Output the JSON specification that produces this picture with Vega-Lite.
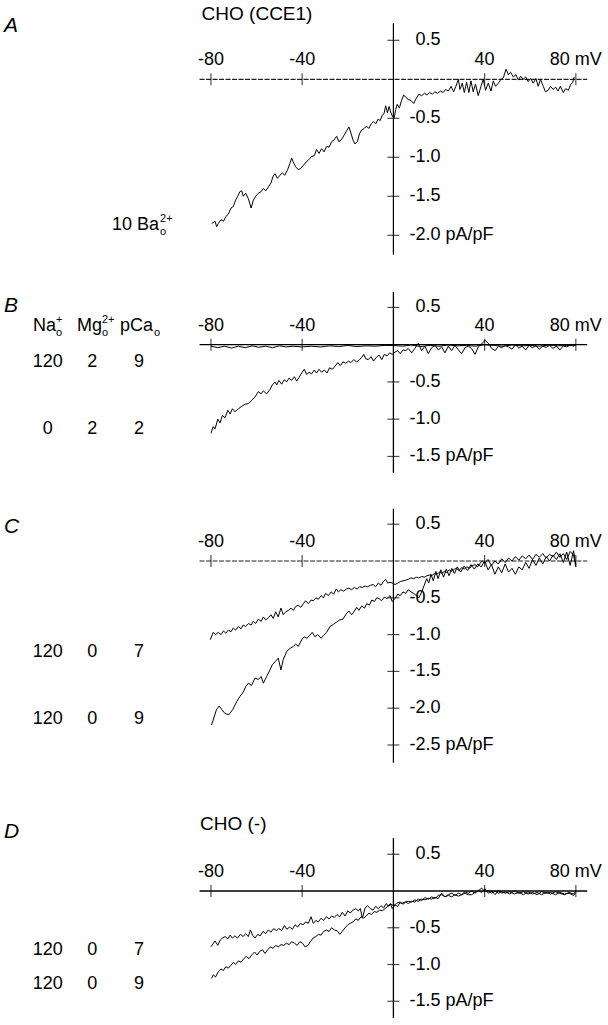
{
"$schema":"https://vega.github.io/schema/vega-lite/v6.json",
"padding":0,"spacing":0,"bounds":"flush","background":"white",
"config":{"view":{"stroke":null},"text":{"font":"Liberation Sans","color":"black"}},
"datasets":{
"Aa":[
{"k":"axh","x":-85,"x2":85,"y":0,"y2":0},{"k":"axv","x":0,"x2":0,"y":0.72,"y2":-2.25},
{"k":"xt","x":-80,"y":0},{"k":"xt","x":-40,"y":0},{"k":"xt","x":40,"y":0},{"k":"xt","x":80,"y":0},
{"k":"yt","x":0,"y":0.5},{"k":"yt","x":0,"y":-0.5},{"k":"yt","x":0,"y":-1},{"k":"yt","x":0,"y":-1.5},{"k":"yt","x":0,"y":-2},
{"k":"xl","x":-80,"y":0,"t":"-80"},{"k":"xl","x":-40,"y":0,"t":"-40"},{"k":"xl","x":40,"y":0,"t":"40"},{"k":"xl","x":80,"y":0,"t":"80 mV"},
{"k":"ylp","x":0,"y":0.5,"t":"0.5"},{"k":"yl","x":0,"y":-0.5,"t":"-0.5"},{"k":"yl","x":0,"y":-1,"t":"-1.0"},{"k":"yl","x":0,"y":-1.5,"t":"-1.5"},{"k":"yl","x":0,"y":-2,"t":"-2.0 pA/pF"},
{"k":"let","x":-170.7,"y":0.606,"t":"A"},
{"k":"ttl","x":-84.1,"y":0.76,"t":"CHO (CCE1)"},
{"k":"lbl","x":-123.4,"y":-1.932,"t":"10 Ba"},
{"k":"sup","x":-102.3,"y":-1.932,"t":"2+"},{"k":"sub","x":-102.3,"y":-1.932,"t":"o"}
],
"At":[
{"x":-79.7,"y":-1.85},{"x":-78.2,"y":-1.82},{"x":-77.5,"y":-1.89},{"x":-76.8,"y":-1.85},{"x":-75.6,"y":-1.8},{"x":-74.5,"y":-1.82},{"x":-73.5,"y":-1.76},{"x":-72.4,"y":-1.73},{"x":-71.2,"y":-1.65},{"x":-70.2,"y":-1.63},{"x":-69.2,"y":-1.55},{"x":-68.3,"y":-1.5},{"x":-67.3,"y":-1.44},{"x":-66.5,"y":-1.43},{"x":-65.8,"y":-1.5},{"x":-64.8,"y":-1.46},{"x":-63.6,"y":-1.53},{"x":-62.4,"y":-1.65},{"x":-61.4,"y":-1.55},{"x":-60.4,"y":-1.5},{"x":-59.2,"y":-1.46},{"x":-58,"y":-1.44},{"x":-57,"y":-1.4},{"x":-56,"y":-1.43},{"x":-54.8,"y":-1.38},{"x":-53.7,"y":-1.33},{"x":-52.7,"y":-1.24},{"x":-51.9,"y":-1.21},{"x":-50.9,"y":-1.27},{"x":-49.7,"y":-1.23},{"x":-48.7,"y":-1.2},{"x":-47.6,"y":-1.23},{"x":-46.4,"y":-1.16},{"x":-45.4,"y":-1.08},{"x":-44.6,"y":-1.01},{"x":-43.9,"y":-1.06},{"x":-42.9,"y":-1.12},{"x":-41.7,"y":-1.16},{"x":-40.6,"y":-1.14},{"x":-39.4,"y":-1.1},{"x":-38.2,"y":-1.06},{"x":-37.1,"y":-1.03},{"x":-35.9,"y":-0.99},{"x":-34.7,"y":-0.98},{"x":-33.7,"y":-0.9},{"x":-32.6,"y":-0.95},{"x":-31.5,"y":-0.89},{"x":-30.4,"y":-0.93},{"x":-29.3,"y":-0.86},{"x":-28.2,"y":-0.87},{"x":-27.1,"y":-0.8},{"x":-26.1,"y":-0.78},{"x":-24.9,"y":-0.73},{"x":-23.9,"y":-0.8},{"x":-22.7,"y":-0.77},{"x":-21.5,"y":-0.71},{"x":-20.5,"y":-0.66},{"x":-19.5,"y":-0.61},{"x":-18.6,"y":-0.69},{"x":-17.7,"y":-0.78},{"x":-16.8,"y":-0.83},{"x":-15.8,"y":-0.8},{"x":-14.9,"y":-0.7},{"x":-13.9,"y":-0.65},{"x":-12.8,"y":-0.63},{"x":-11.8,"y":-0.6},{"x":-10.8,"y":-0.63},{"x":-9.7,"y":-0.57},{"x":-8.7,"y":-0.54},{"x":-7.7,"y":-0.57},{"x":-6.7,"y":-0.51},{"x":-5.8,"y":-0.53},{"x":-4.9,"y":-0.46},{"x":-4.1,"y":-0.44},{"x":-3.4,"y":-0.34},{"x":-2.6,"y":-0.43},{"x":-1.9,"y":-0.35},{"x":-1.2,"y":-0.42},{"x":-0.5,"y":-0.47},{"x":0.3,"y":-0.5},{"x":1,"y":-0.39},{"x":1.7,"y":-0.32},{"x":2.6,"y":-0.37},{"x":3.6,"y":-0.27},{"x":4.5,"y":-0.2},{"x":5.4,"y":-0.23},{"x":6.5,"y":-0.26},{"x":7.7,"y":-0.27},{"x":8.9,"y":-0.31},{"x":10.1,"y":-0.24},{"x":11.2,"y":-0.19},{"x":12.4,"y":-0.21},{"x":13.6,"y":-0.18},{"x":14.7,"y":-0.2},{"x":15.9,"y":-0.17},{"x":17.1,"y":-0.19},{"x":18.2,"y":-0.16},{"x":19.4,"y":-0.18},{"x":20.6,"y":-0.15},{"x":21.8,"y":-0.17},{"x":22.9,"y":-0.13},{"x":24.1,"y":-0.15},{"x":25.3,"y":-0.09},{"x":26.4,"y":-0.16},{"x":27.4,"y":-0.09},{"x":28.5,"y":0},{"x":29.2,"y":-0.13},{"x":30.2,"y":-0.05},{"x":31.1,"y":-0.17},{"x":32.1,"y":-0.04},{"x":33.1,"y":-0.17},{"x":34,"y":-0.02},{"x":35,"y":-0.16},{"x":36,"y":-0.06},{"x":37.2,"y":-0.21},{"x":38.4,"y":-0.09},{"x":39.4,"y":0},{"x":40.4,"y":-0.14},{"x":41.6,"y":-0.05},{"x":42.8,"y":-0.15},{"x":43.8,"y":-0.02},{"x":44.8,"y":-0.09},{"x":46,"y":-0.05},{"x":47.2,"y":0},{"x":48.2,"y":0.02},{"x":49.4,"y":0.13},{"x":50.4,"y":0.06},{"x":51.4,"y":0.09},{"x":52.6,"y":0.03},{"x":53.7,"y":0.06},{"x":54.8,"y":-0.01},{"x":55.8,"y":0.04},{"x":56.9,"y":0},{"x":58,"y":0.03},{"x":59.1,"y":-0.03},{"x":60.2,"y":0.01},{"x":61.3,"y":-0.05},{"x":62.5,"y":0.01},{"x":63.5,"y":-0.09},{"x":64.5,"y":0},{"x":65.7,"y":-0.09},{"x":66.7,"y":-0.16},{"x":67.9,"y":-0.14},{"x":68.9,"y":-0.09},{"x":70.1,"y":-0.13},{"x":71.1,"y":-0.1},{"x":72.2,"y":-0.15},{"x":73.2,"y":-0.09},{"x":74.5,"y":-0.17},{"x":75.5,"y":-0.12},{"x":76.7,"y":-0.14},{"x":77.7,"y":-0.07},{"x":78.6,"y":-0.04},{"x":79.3,"y":0.03}
],
"Ba":[
{"k":"axh","x":-85,"x2":85,"y":0,"y2":0},{"k":"axv","x":0,"x2":0,"y":0.71,"y2":-1.72},
{"k":"xt","x":-80,"y":0},{"k":"xt","x":-40,"y":0},{"k":"xt","x":40,"y":0},{"k":"xt","x":80,"y":0},
{"k":"yt","x":0,"y":0.5},{"k":"yt","x":0,"y":-0.5},{"k":"yt","x":0,"y":-1},{"k":"yt","x":0,"y":-1.5},
{"k":"xl","x":-80,"y":0,"t":"-80"},{"k":"xl","x":-40,"y":0,"t":"-40"},{"k":"xl","x":40,"y":0,"t":"40"},{"k":"xl","x":80,"y":0,"t":"80 mV"},
{"k":"ylp","x":0,"y":0.5,"t":"0.5"},{"k":"yl","x":0,"y":-0.5,"t":"-0.5"},{"k":"yl","x":0,"y":-1,"t":"-1.0"},{"k":"yl","x":0,"y":-1.5,"t":"-1.5 pA/pF"},
{"k":"let","x":-170.7,"y":0.443,"t":"B"},
{"k":"lbl","x":-158,"y":0.184,"t":"Na"},{"k":"lbl","x":-138.7,"y":0.184,"t":"Mg"},{"k":"lbl","x":-119.9,"y":0.184,"t":"pCa"},
{"k":"sup","x":-147.9,"y":0.184,"t":"+"},{"k":"sup","x":-127.8,"y":0.184,"t":"2+"},
{"k":"sub","x":-147.9,"y":0.184,"t":"o"},{"k":"sub","x":-127.8,"y":0.184,"t":"o"},{"k":"sub","x":-105,"y":0.184,"t":"o"},
{"k":"num","x":-151.6,"y":-0.293,"t":"120"},{"k":"num","x":-132.1,"y":-0.293,"t":"2"},{"k":"num","x":-111.5,"y":-0.293,"t":"9"},
{"k":"num","x":-151.6,"y":-1.205,"t":"0"},{"k":"num","x":-132.1,"y":-1.205,"t":"2"},{"k":"num","x":-111.5,"y":-1.205,"t":"2"}
],
"Bt":[
{"s":"a","x":-80,"y":-0.02},{"s":"a","x":-77,"y":-0.04},{"s":"a","x":-74,"y":-0.02},{"s":"a","x":-71,"y":-0.045},{"s":"a","x":-68,"y":-0.02},{"s":"a","x":-65,"y":-0.04},{"s":"a","x":-62,"y":-0.015},{"s":"a","x":-59,"y":-0.035},{"s":"a","x":-56,"y":-0.02},{"s":"a","x":-53,"y":-0.04},{"s":"a","x":-50,"y":-0.015},{"s":"a","x":-47,"y":-0.03},{"s":"a","x":-44,"y":-0.02},{"s":"a","x":-40,"y":-0.03},{"s":"a","x":-36,"y":-0.02},{"s":"a","x":-32,"y":-0.03},{"s":"a","x":-28,"y":-0.015},{"s":"a","x":-24,"y":-0.025},{"s":"a","x":-20,"y":-0.01},{"s":"a","x":-16,"y":-0.025},{"s":"a","x":-12,"y":-0.015},{"s":"a","x":-8,"y":-0.02},{"s":"a","x":-4,"y":-0.01},{"s":"a","x":0,"y":-0.01},{"s":"a","x":4,"y":-0.02},{"s":"a","x":8,"y":-0.005},{"s":"a","x":12,"y":-0.025},{"s":"a","x":16,"y":-0.01},{"s":"a","x":20,"y":-0.02},{"s":"a","x":24,"y":-0.005},{"s":"a","x":28,"y":-0.015},{"s":"a","x":32,"y":-0.01},{"s":"a","x":36,"y":-0.02},{"s":"a","x":40,"y":0},{"s":"a","x":44,"y":-0.01},{"s":"a","x":48,"y":-0.02},{"s":"a","x":52,"y":-0.005},{"s":"a","x":56,"y":-0.015},{"s":"a","x":60,"y":-0.01},{"s":"a","x":64,"y":-0.02},{"s":"a","x":68,"y":-0.005},{"s":"a","x":72,"y":-0.015},{"s":"a","x":76,"y":-0.01},{"s":"a","x":80,"y":-0.005},
{"s":"b","x":-80,"y":-1.19},{"s":"b","x":-79,"y":-1.1},{"s":"b","x":-78.2,"y":-1.13},{"s":"b","x":-77,"y":-1},{"s":"b","x":-76,"y":-1.05},{"s":"b","x":-75,"y":-0.95},{"s":"b","x":-73.8,"y":-0.98},{"s":"b","x":-72.6,"y":-0.88},{"s":"b","x":-71.6,"y":-0.93},{"s":"b","x":-70.6,"y":-0.86},{"s":"b","x":-69.5,"y":-0.9},{"s":"b","x":-68,"y":-0.86},{"s":"b","x":-66.6,"y":-0.83},{"s":"b","x":-65.1,"y":-0.8},{"s":"b","x":-63.6,"y":-0.79},{"s":"b","x":-62.2,"y":-0.75},{"s":"b","x":-60.7,"y":-0.7},{"s":"b","x":-59.2,"y":-0.63},{"s":"b","x":-58,"y":-0.66},{"s":"b","x":-57,"y":-0.62},{"s":"b","x":-55.6,"y":-0.66},{"s":"b","x":-54.1,"y":-0.6},{"s":"b","x":-53.1,"y":-0.54},{"s":"b","x":-51.9,"y":-0.5},{"s":"b","x":-51.2,"y":-0.54},{"s":"b","x":-50.2,"y":-0.48},{"s":"b","x":-49,"y":-0.53},{"s":"b","x":-47.8,"y":-0.47},{"s":"b","x":-46.8,"y":-0.5},{"s":"b","x":-45.8,"y":-0.45},{"s":"b","x":-44.6,"y":-0.48},{"s":"b","x":-43.4,"y":-0.43},{"s":"b","x":-42.4,"y":-0.49},{"s":"b","x":-41.4,"y":-0.44},{"s":"b","x":-40.2,"y":-0.38},{"s":"b","x":-39.1,"y":-0.33},{"s":"b","x":-38,"y":-0.4},{"s":"b","x":-37,"y":-0.37},{"s":"b","x":-35.8,"y":-0.39},{"s":"b","x":-34.7,"y":-0.34},{"s":"b","x":-33.7,"y":-0.38},{"s":"b","x":-32.6,"y":-0.33},{"s":"b","x":-31.5,"y":-0.37},{"s":"b","x":-30.3,"y":-0.34},{"s":"b","x":-29.1,"y":-0.38},{"s":"b","x":-28,"y":-0.31},{"s":"b","x":-26.8,"y":-0.33},{"s":"b","x":-25.6,"y":-0.29},{"s":"b","x":-24.4,"y":-0.24},{"s":"b","x":-23.3,"y":-0.28},{"s":"b","x":-22.1,"y":-0.23},{"s":"b","x":-20.9,"y":-0.25},{"s":"b","x":-19.7,"y":-0.22},{"s":"b","x":-18.6,"y":-0.24},{"s":"b","x":-17.4,"y":-0.2},{"s":"b","x":-16.2,"y":-0.23},{"s":"b","x":-15.1,"y":-0.21},{"s":"b","x":-13.9,"y":-0.17},{"s":"b","x":-13,"y":-0.13},{"s":"b","x":-12.1,"y":-0.19},{"s":"b","x":-11,"y":-0.2},{"s":"b","x":-9.8,"y":-0.16},{"s":"b","x":-8.7,"y":-0.22},{"s":"b","x":-7.5,"y":-0.17},{"s":"b","x":-6.3,"y":-0.14},{"s":"b","x":-5.1,"y":-0.2},{"s":"b","x":-4,"y":-0.13},{"s":"b","x":-2.8,"y":-0.15},{"s":"b","x":-1.6,"y":-0.11},{"s":"b","x":-0.5,"y":-0.13},{"s":"b","x":0.7,"y":-0.1},{"s":"b","x":1.9,"y":-0.08},{"s":"b","x":3,"y":-0.12},{"s":"b","x":4.2,"y":-0.07},{"s":"b","x":5.4,"y":-0.08},{"s":"b","x":6.5,"y":-0.05},{"s":"b","x":8,"y":-0.11},{"s":"b","x":9.4,"y":-0.05},{"s":"b","x":10.9,"y":0.02},{"s":"b","x":12.4,"y":-0.08},{"s":"b","x":13.8,"y":-0.02},{"s":"b","x":15.3,"y":-0.12},{"s":"b","x":16.8,"y":-0.04},{"s":"b","x":18.3,"y":-0.01},{"s":"b","x":19.7,"y":-0.07},{"s":"b","x":21.2,"y":-0.03},{"s":"b","x":22.6,"y":-0.11},{"s":"b","x":24.1,"y":-0.02},{"s":"b","x":25.5,"y":-0.08},{"s":"b","x":27,"y":-0.01},{"s":"b","x":28.5,"y":-0.07},{"s":"b","x":29.9,"y":-0.12},{"s":"b","x":31.4,"y":-0.04},{"s":"b","x":32.8,"y":-0.02},{"s":"b","x":34.3,"y":-0.05},{"s":"b","x":35.8,"y":-0.13},{"s":"b","x":37.2,"y":-0.03},{"s":"b","x":38.7,"y":0.01},{"s":"b","x":40.2,"y":0.06},{"s":"b","x":41.6,"y":0.02},{"s":"b","x":43.1,"y":-0.05},{"s":"b","x":44.6,"y":-0.08},{"s":"b","x":46,"y":-0.02},{"s":"b","x":47.5,"y":-0.04},{"s":"b","x":48.9,"y":-0.01},{"s":"b","x":50.5,"y":-0.03},{"s":"b","x":52,"y":-0.06},{"s":"b","x":53.5,"y":0},{"s":"b","x":55,"y":-0.045},{"s":"b","x":56.5,"y":-0.02},{"s":"b","x":58,"y":-0.07},{"s":"b","x":59.5,"y":-0.01},{"s":"b","x":61,"y":-0.04},{"s":"b","x":62.5,"y":-0.015},{"s":"b","x":64,"y":-0.06},{"s":"b","x":65.5,"y":-0.02},{"s":"b","x":67,"y":-0.035},{"s":"b","x":68.5,"y":-0.01},{"s":"b","x":70,"y":-0.05},{"s":"b","x":71.5,"y":-0.02},{"s":"b","x":73,"y":-0.07},{"s":"b","x":74.5,"y":-0.015},{"s":"b","x":76,"y":-0.03},{"s":"b","x":77.5,"y":-0.005},{"s":"b","x":79,"y":-0.02},{"s":"b","x":80,"y":0}
],
"Ca":[
{"k":"axh","x":-85,"x2":85,"y":0,"y2":0},{"k":"axv","x":0,"x2":0,"y":0.71,"y2":-2.74},
{"k":"xt","x":-80,"y":0},{"k":"xt","x":-40,"y":0},{"k":"xt","x":40,"y":0},{"k":"xt","x":80,"y":0},
{"k":"yt","x":0,"y":0.5},{"k":"yt","x":0,"y":-0.5},{"k":"yt","x":0,"y":-1},{"k":"yt","x":0,"y":-1.5},{"k":"yt","x":0,"y":-2},{"k":"yt","x":0,"y":-2.5},
{"k":"xl","x":-80,"y":0,"t":"-80"},{"k":"xl","x":-40,"y":0,"t":"-40"},{"k":"xl","x":40,"y":0,"t":"40"},{"k":"xl","x":80,"y":0,"t":"80 mV"},
{"k":"ylp","x":0,"y":0.5,"t":"0.5"},{"k":"yl","x":0,"y":-0.5,"t":"-0.5"},{"k":"yl","x":0,"y":-1,"t":"-1.0"},{"k":"yl","x":0,"y":-1.5,"t":"-1.5"},{"k":"yl","x":0,"y":-2,"t":"-2.0"},{"k":"yl","x":0,"y":-2.5,"t":"-2.5 pA/pF"},
{"k":"let","x":-170.7,"y":0.38,"t":"C"},
{"k":"num","x":-151.6,"y":-1.298,"t":"120"},{"k":"num","x":-132.1,"y":-1.298,"t":"0"},{"k":"num","x":-111.5,"y":-1.298,"t":"7"},
{"k":"num","x":-151.6,"y":-2.221,"t":"120"},{"k":"num","x":-132.1,"y":-2.221,"t":"0"},{"k":"num","x":-111.5,"y":-2.221,"t":"9"}
],
"Ct":[
{"s":"a","x":-80.3,"y":-1.07},{"s":"a","x":-79,"y":-0.97},{"s":"a","x":-78,"y":-1},{"s":"a","x":-76.8,"y":-0.97},{"s":"a","x":-75.6,"y":-1},{"s":"a","x":-74.5,"y":-0.95},{"s":"a","x":-73.5,"y":-0.98},{"s":"a","x":-72.4,"y":-0.94},{"s":"a","x":-71.2,"y":-0.96},{"s":"a","x":-70.2,"y":-0.91},{"s":"a","x":-69.2,"y":-0.94},{"s":"a","x":-68,"y":-0.89},{"s":"a","x":-66.8,"y":-0.92},{"s":"a","x":-65.8,"y":-0.87},{"s":"a","x":-64.8,"y":-0.89},{"s":"a","x":-63.6,"y":-0.85},{"s":"a","x":-62.4,"y":-0.87},{"s":"a","x":-61.4,"y":-0.82},{"s":"a","x":-60.4,"y":-0.85},{"s":"a","x":-59.2,"y":-0.79},{"s":"a","x":-58,"y":-0.82},{"s":"a","x":-57,"y":-0.76},{"s":"a","x":-56,"y":-0.8},{"s":"a","x":-54.8,"y":-0.77},{"s":"a","x":-53.7,"y":-0.73},{"s":"a","x":-52.7,"y":-0.78},{"s":"a","x":-51.6,"y":-0.69},{"s":"a","x":-50.5,"y":-0.76},{"s":"a","x":-49.3,"y":-0.64},{"s":"a","x":-48.3,"y":-0.73},{"s":"a","x":-47.2,"y":-0.69},{"s":"a","x":-46,"y":-0.67},{"s":"a","x":-44.9,"y":-0.64},{"s":"a","x":-43.9,"y":-0.67},{"s":"a","x":-42.9,"y":-0.62},{"s":"a","x":-41.7,"y":-0.6},{"s":"a","x":-40.6,"y":-0.63},{"s":"a","x":-39.5,"y":-0.58},{"s":"a","x":-38.5,"y":-0.54},{"s":"a","x":-37.3,"y":-0.58},{"s":"a","x":-36.1,"y":-0.53},{"s":"a","x":-35.1,"y":-0.54},{"s":"a","x":-34,"y":-0.5},{"s":"a","x":-32.9,"y":-0.52},{"s":"a","x":-31.7,"y":-0.47},{"s":"a","x":-30.7,"y":-0.5},{"s":"a","x":-29.7,"y":-0.44},{"s":"a","x":-28.5,"y":-0.47},{"s":"a","x":-27.3,"y":-0.42},{"s":"a","x":-26.2,"y":-0.45},{"s":"a","x":-25,"y":-0.38},{"s":"a","x":-24.1,"y":-0.42},{"s":"a","x":-23,"y":-0.39},{"s":"a","x":-21.8,"y":-0.41},{"s":"a","x":-20.6,"y":-0.38},{"s":"a","x":-19.5,"y":-0.37},{"s":"a","x":-18.3,"y":-0.39},{"s":"a","x":-17.1,"y":-0.36},{"s":"a","x":-15.9,"y":-0.38},{"s":"a","x":-14.8,"y":-0.35},{"s":"a","x":-13.6,"y":-0.36},{"s":"a","x":-12.4,"y":-0.34},{"s":"a","x":-11.3,"y":-0.35},{"s":"a","x":-10.1,"y":-0.33},{"s":"a","x":-8.9,"y":-0.32},{"s":"a","x":-7.8,"y":-0.35},{"s":"a","x":-6.6,"y":-0.3},{"s":"a","x":-5.4,"y":-0.33},{"s":"a","x":-4.4,"y":-0.28},{"s":"a","x":-3.4,"y":-0.25},{"s":"a","x":-2.5,"y":-0.3},{"s":"a","x":-1.5,"y":-0.29},{"s":"a","x":-0.5,"y":-0.3},{"s":"a","x":0.7,"y":-0.32},{"s":"a","x":1.9,"y":-0.3},{"s":"a","x":3,"y":-0.28},{"s":"a","x":4.2,"y":-0.27},{"s":"a","x":5.4,"y":-0.26},{"s":"a","x":6.5,"y":-0.25},{"s":"a","x":7.7,"y":-0.23},{"s":"a","x":8.9,"y":-0.24},{"s":"a","x":10.1,"y":-0.22},{"s":"a","x":11.2,"y":-0.23},{"s":"a","x":12.4,"y":-0.21},{"s":"a","x":13.6,"y":-0.22},{"s":"a","x":14.7,"y":-0.2},{"s":"a","x":15.9,"y":-0.19},{"s":"a","x":16.8,"y":-0.2},{"s":"a","x":18,"y":-0.17},{"s":"a","x":19.1,"y":-0.18},{"s":"a","x":20.3,"y":-0.15},{"s":"a","x":21.2,"y":-0.17},{"s":"a","x":22.4,"y":-0.14},{"s":"a","x":23.4,"y":-0.16},{"s":"a","x":24.4,"y":-0.12},{"s":"a","x":25.6,"y":-0.14},{"s":"a","x":26.8,"y":-0.11},{"s":"a","x":27.7,"y":-0.1},{"s":"a","x":28.8,"y":-0.13},{"s":"a","x":29.9,"y":-0.09},{"s":"a","x":31.1,"y":-0.11},{"s":"a","x":32.2,"y":-0.08},{"s":"a","x":33.4,"y":-0.1},{"s":"a","x":34.6,"y":-0.06},{"s":"a","x":35.8,"y":-0.05},{"s":"a","x":36.9,"y":-0.08},{"s":"a","x":38,"y":-0.03},{"s":"a","x":39,"y":0},{"s":"a","x":40,"y":-0.03},{"s":"a","x":41.5,"y":0.02},{"s":"a","x":43,"y":-0.06},{"s":"a","x":44.5,"y":0},{"s":"a","x":46,"y":-0.04},{"s":"a","x":47.5,"y":0.03},{"s":"a","x":49,"y":-0.02},{"s":"a","x":50.5,"y":0.04},{"s":"a","x":52,"y":0},{"s":"a","x":53.5,"y":0.06},{"s":"a","x":55,"y":0.01},{"s":"a","x":56.5,"y":0.07},{"s":"a","x":58,"y":0.03},{"s":"a","x":59.5,"y":0.08},{"s":"a","x":61,"y":0.02},{"s":"a","x":62.5,"y":0.09},{"s":"a","x":64,"y":0.05},{"s":"a","x":65.5,"y":0.1},{"s":"a","x":67,"y":0.04},{"s":"a","x":68.5,"y":0.09},{"s":"a","x":70,"y":0.06},{"s":"a","x":71.5,"y":0.12},{"s":"a","x":73,"y":0.05},{"s":"a","x":74.5,"y":0.1},{"s":"a","x":76,"y":0.02},{"s":"a","x":77.5,"y":0.13},{"s":"a","x":79,"y":0.08},{"s":"a","x":80,"y":-0.08},
{"s":"b","x":-79.8,"y":-2.23},{"s":"b","x":-79,"y":-2.16},{"s":"b","x":-77.6,"y":-2.02},{"s":"b","x":-76.4,"y":-1.97},{"s":"b","x":-75.2,"y":-2.02},{"s":"b","x":-73.9,"y":-2.07},{"s":"b","x":-72.2,"y":-2.09},{"s":"b","x":-70.5,"y":-2.02},{"s":"b","x":-68.7,"y":-1.91},{"s":"b","x":-67.3,"y":-1.84},{"s":"b","x":-65.8,"y":-1.78},{"s":"b","x":-64.8,"y":-1.71},{"s":"b","x":-63.6,"y":-1.66},{"s":"b","x":-62.2,"y":-1.69},{"s":"b","x":-60.7,"y":-1.59},{"s":"b","x":-59.2,"y":-1.61},{"s":"b","x":-58,"y":-1.57},{"s":"b","x":-57,"y":-1.66},{"s":"b","x":-55.6,"y":-1.57},{"s":"b","x":-54.1,"y":-1.48},{"s":"b","x":-53.1,"y":-1.41},{"s":"b","x":-51.9,"y":-1.37},{"s":"b","x":-50.5,"y":-1.32},{"s":"b","x":-49.3,"y":-1.48},{"s":"b","x":-48.3,"y":-1.34},{"s":"b","x":-46.8,"y":-1.23},{"s":"b","x":-45.4,"y":-1.19},{"s":"b","x":-43.9,"y":-1.16},{"s":"b","x":-42.9,"y":-1.13},{"s":"b","x":-41.7,"y":-1.16},{"s":"b","x":-40.2,"y":-1.07},{"s":"b","x":-39.1,"y":-1.03},{"s":"b","x":-38,"y":-1.05},{"s":"b","x":-36.6,"y":-1.01},{"s":"b","x":-35.6,"y":-0.97},{"s":"b","x":-34.4,"y":-1.03},{"s":"b","x":-33.2,"y":-1},{"s":"b","x":-31.7,"y":-1.05},{"s":"b","x":-30.6,"y":-1.01},{"s":"b","x":-29.3,"y":-0.97},{"s":"b","x":-27.8,"y":-0.89},{"s":"b","x":-26.3,"y":-0.86},{"s":"b","x":-24.9,"y":-0.83},{"s":"b","x":-23.5,"y":-0.8},{"s":"b","x":-22.1,"y":-0.79},{"s":"b","x":-20.5,"y":-0.71},{"s":"b","x":-19.5,"y":-0.68},{"s":"b","x":-18.3,"y":-0.73},{"s":"b","x":-17.3,"y":-0.69},{"s":"b","x":-16.1,"y":-0.63},{"s":"b","x":-15.1,"y":-0.67},{"s":"b","x":-13.9,"y":-0.61},{"s":"b","x":-12.7,"y":-0.64},{"s":"b","x":-11.7,"y":-0.58},{"s":"b","x":-10.5,"y":-0.6},{"s":"b","x":-9.5,"y":-0.53},{"s":"b","x":-8.3,"y":-0.55},{"s":"b","x":-7.3,"y":-0.5},{"s":"b","x":-6.3,"y":-0.51},{"s":"b","x":-5.2,"y":-0.54},{"s":"b","x":-4,"y":-0.49},{"s":"b","x":-2.8,"y":-0.51},{"s":"b","x":-1.5,"y":-0.47},{"s":"b","x":-0.5,"y":-0.55},{"s":"b","x":0.7,"y":-0.51},{"s":"b","x":1.9,"y":-0.45},{"s":"b","x":3,"y":-0.47},{"s":"b","x":4.2,"y":-0.42},{"s":"b","x":5.4,"y":-0.44},{"s":"b","x":6.5,"y":-0.39},{"s":"b","x":7.7,"y":-0.42},{"s":"b","x":8.9,"y":-0.44},{"s":"b","x":10.1,"y":-0.47},{"s":"b","x":11.2,"y":-0.5},{"s":"b","x":12.4,"y":-0.42},{"s":"b","x":13.5,"y":-0.33},{"s":"b","x":14.6,"y":-0.24},{"s":"b","x":15.5,"y":-0.3},{"s":"b","x":16.5,"y":-0.18},{"s":"b","x":17.5,"y":-0.27},{"s":"b","x":18.6,"y":-0.14},{"s":"b","x":19.6,"y":-0.24},{"s":"b","x":20.8,"y":-0.12},{"s":"b","x":22,"y":-0.22},{"s":"b","x":23.2,"y":-0.11},{"s":"b","x":24.4,"y":-0.2},{"s":"b","x":25.6,"y":-0.1},{"s":"b","x":26.8,"y":-0.17},{"s":"b","x":28,"y":-0.08},{"s":"b","x":29.5,"y":-0.15},{"s":"b","x":31,"y":-0.07},{"s":"b","x":32.5,"y":-0.13},{"s":"b","x":34,"y":-0.05},{"s":"b","x":35.5,"y":-0.11},{"s":"b","x":37,"y":-0.04},{"s":"b","x":38.5,"y":-0.08},{"s":"b","x":40,"y":0},{"s":"b","x":41.5,"y":-0.12},{"s":"b","x":43,"y":-0.05},{"s":"b","x":44.5,"y":-0.18},{"s":"b","x":46,"y":-0.08},{"s":"b","x":47.5,"y":-0.16},{"s":"b","x":49,"y":-0.04},{"s":"b","x":50.5,"y":-0.15},{"s":"b","x":52,"y":-0.1},{"s":"b","x":53.5,"y":-0.18},{"s":"b","x":55,"y":-0.08},{"s":"b","x":56.5,"y":-0.12},{"s":"b","x":58,"y":-0.02},{"s":"b","x":59.5,"y":-0.1},{"s":"b","x":61,"y":0.02},{"s":"b","x":62.5,"y":-0.06},{"s":"b","x":64,"y":0.04},{"s":"b","x":65.5,"y":-0.04},{"s":"b","x":67,"y":0.06},{"s":"b","x":68.5,"y":0},{"s":"b","x":70,"y":0.08},{"s":"b","x":71.5,"y":0.02},{"s":"b","x":73,"y":0.1},{"s":"b","x":74.5,"y":-0.02},{"s":"b","x":76,"y":0.12},{"s":"b","x":77.5,"y":-0.06},{"s":"b","x":79,"y":0.14},{"s":"b","x":80,"y":-0.05}
],
"Da":[
{"k":"axh","x":-85,"x2":85,"y":0,"y2":0},{"k":"axv","x":0,"x2":0,"y":0.72,"y2":-1.73},
{"k":"xt","x":-80,"y":0},{"k":"xt","x":-40,"y":0},{"k":"xt","x":40,"y":0},{"k":"xt","x":80,"y":0},
{"k":"yt","x":0,"y":0.5},{"k":"yt","x":0,"y":-0.5},{"k":"yt","x":0,"y":-1},{"k":"yt","x":0,"y":-1.5},
{"k":"xl","x":-80,"y":0,"t":"-80"},{"k":"xl","x":-40,"y":0,"t":"-40"},{"k":"xl","x":40,"y":0,"t":"40"},{"k":"xl","x":80,"y":0,"t":"80 mV"},
{"k":"ylp","x":0,"y":0.5,"t":"0.5"},{"k":"yl","x":0,"y":-0.5,"t":"-0.5"},{"k":"yl","x":0,"y":-1,"t":"-1.0"},{"k":"yl","x":0,"y":-1.5,"t":"-1.5 pA/pF"},
{"k":"let","x":-170.7,"y":0.721,"t":"D"},
{"k":"ttl","x":-84.8,"y":0.83,"t":"CHO (-)"},
{"k":"num","x":-151.6,"y":-0.864,"t":"120"},{"k":"num","x":-132.1,"y":-0.864,"t":"0"},{"k":"num","x":-111.5,"y":-0.864,"t":"7"},
{"k":"num","x":-151.6,"y":-1.34,"t":"120"},{"k":"num","x":-132.1,"y":-1.34,"t":"0"},{"k":"num","x":-111.5,"y":-1.34,"t":"9"}
],
"Dt":[
{"s":"a","x":-80,"y":-0.76},{"s":"a","x":-78.9,"y":-0.71},{"s":"a","x":-78.2,"y":-0.68},{"s":"a","x":-77,"y":-0.74},{"s":"a","x":-76,"y":-0.67},{"s":"a","x":-75,"y":-0.64},{"s":"a","x":-73.8,"y":-0.62},{"s":"a","x":-72.6,"y":-0.65},{"s":"a","x":-71.6,"y":-0.6},{"s":"a","x":-70.6,"y":-0.64},{"s":"a","x":-69.5,"y":-0.61},{"s":"a","x":-68.3,"y":-0.64},{"s":"a","x":-67.1,"y":-0.59},{"s":"a","x":-65.9,"y":-0.62},{"s":"a","x":-64.8,"y":-0.58},{"s":"a","x":-63.6,"y":-0.62},{"s":"a","x":-62.7,"y":-0.53},{"s":"a","x":-61.8,"y":-0.6},{"s":"a","x":-60.7,"y":-0.64},{"s":"a","x":-59.5,"y":-0.59},{"s":"a","x":-58.4,"y":-0.61},{"s":"a","x":-57.2,"y":-0.55},{"s":"a","x":-56,"y":-0.58},{"s":"a","x":-54.8,"y":-0.53},{"s":"a","x":-53.7,"y":-0.56},{"s":"a","x":-52.5,"y":-0.51},{"s":"a","x":-51.3,"y":-0.54},{"s":"a","x":-50.2,"y":-0.51},{"s":"a","x":-49,"y":-0.54},{"s":"a","x":-47.8,"y":-0.47},{"s":"a","x":-46.7,"y":-0.52},{"s":"a","x":-45.5,"y":-0.49},{"s":"a","x":-44.3,"y":-0.52},{"s":"a","x":-43.1,"y":-0.46},{"s":"a","x":-42,"y":-0.49},{"s":"a","x":-40.8,"y":-0.44},{"s":"a","x":-39.6,"y":-0.46},{"s":"a","x":-38.5,"y":-0.42},{"s":"a","x":-37.3,"y":-0.44},{"s":"a","x":-36.1,"y":-0.35},{"s":"a","x":-35.1,"y":-0.44},{"s":"a","x":-34,"y":-0.4},{"s":"a","x":-32.9,"y":-0.42},{"s":"a","x":-31.7,"y":-0.37},{"s":"a","x":-30.6,"y":-0.4},{"s":"a","x":-29.4,"y":-0.35},{"s":"a","x":-28.2,"y":-0.38},{"s":"a","x":-27.1,"y":-0.34},{"s":"a","x":-25.9,"y":-0.36},{"s":"a","x":-24.7,"y":-0.32},{"s":"a","x":-23.5,"y":-0.35},{"s":"a","x":-22.4,"y":-0.29},{"s":"a","x":-21.2,"y":-0.34},{"s":"a","x":-20,"y":-0.27},{"s":"a","x":-18.9,"y":-0.3},{"s":"a","x":-17.7,"y":-0.26},{"s":"a","x":-16.5,"y":-0.24},{"s":"a","x":-15.4,"y":-0.27},{"s":"a","x":-14.5,"y":-0.24},{"s":"a","x":-13.6,"y":-0.37},{"s":"a","x":-12.4,"y":-0.23},{"s":"a","x":-11.3,"y":-0.2},{"s":"a","x":-10.1,"y":-0.24},{"s":"a","x":-8.9,"y":-0.26},{"s":"a","x":-7.8,"y":-0.21},{"s":"a","x":-6.6,"y":-0.24},{"s":"a","x":-5.4,"y":-0.2},{"s":"a","x":-4.3,"y":-0.23},{"s":"a","x":-3.1,"y":-0.17},{"s":"a","x":-2.2,"y":-0.21},{"s":"a","x":-1,"y":-0.18},{"s":"a","x":0.1,"y":-0.2},{"s":"a","x":1.3,"y":-0.17},{"s":"a","x":2.5,"y":-0.15},{"s":"a","x":3.6,"y":-0.17},{"s":"a","x":5.1,"y":-0.15},{"s":"a","x":6.5,"y":-0.14},{"s":"a","x":8,"y":-0.15},{"s":"a","x":9.4,"y":-0.12},{"s":"a","x":10.9,"y":-0.14},{"s":"a","x":12.4,"y":-0.11},{"s":"a","x":13.8,"y":-0.12},{"s":"a","x":15.3,"y":-0.1},{"s":"a","x":16.8,"y":-0.11},{"s":"a","x":18.3,"y":-0.09},{"s":"a","x":19.7,"y":-0.1},{"s":"a","x":21.2,"y":-0.03},{"s":"a","x":22.6,"y":-0.08},{"s":"a","x":24.1,"y":-0.06},{"s":"a","x":25.6,"y":-0.08},{"s":"a","x":27,"y":-0.05},{"s":"a","x":28.5,"y":-0.07},{"s":"a","x":29.9,"y":-0.05},{"s":"a","x":31.4,"y":-0.03},{"s":"a","x":32.8,"y":-0.05},{"s":"a","x":34.3,"y":-0.05},{"s":"a","x":35.8,"y":-0.02},{"s":"a","x":37.2,"y":0},{"s":"a","x":38.7,"y":0.04},{"s":"a","x":40.2,"y":-0.01},{"s":"a","x":41.6,"y":0.01},{"s":"a","x":43.1,"y":-0.03},{"s":"a","x":44.6,"y":0},{"s":"a","x":46,"y":-0.03},{"s":"a","x":47.5,"y":-0.01},{"s":"a","x":49,"y":-0.03},{"s":"a","x":51,"y":-0.01},{"s":"a","x":53,"y":-0.04},{"s":"a","x":55,"y":-0.02},{"s":"a","x":57,"y":-0.05},{"s":"a","x":59,"y":-0.01},{"s":"a","x":61,"y":-0.04},{"s":"a","x":63,"y":-0.02},{"s":"a","x":65,"y":-0.05},{"s":"a","x":67,"y":-0.02},{"s":"a","x":69,"y":-0.04},{"s":"a","x":71,"y":-0.01},{"s":"a","x":73,"y":-0.03},{"s":"a","x":75,"y":-0.05},{"s":"a","x":77,"y":-0.02},{"s":"a","x":79,"y":-0.04},{"s":"a","x":80,"y":0},
{"s":"b","x":-79.7,"y":-1.19},{"s":"b","x":-79,"y":-1.14},{"s":"b","x":-78,"y":-1.17},{"s":"b","x":-76.8,"y":-1.1},{"s":"b","x":-75.6,"y":-1.06},{"s":"b","x":-74.5,"y":-1.08},{"s":"b","x":-73.5,"y":-1.03},{"s":"b","x":-72.4,"y":-1.05},{"s":"b","x":-71.2,"y":-1.01},{"s":"b","x":-70.2,"y":-0.97},{"s":"b","x":-69.2,"y":-1},{"s":"b","x":-68,"y":-0.95},{"s":"b","x":-66.8,"y":-0.97},{"s":"b","x":-65.6,"y":-0.92},{"s":"b","x":-64.5,"y":-0.89},{"s":"b","x":-63.3,"y":-0.92},{"s":"b","x":-62.1,"y":-0.87},{"s":"b","x":-60.9,"y":-0.83},{"s":"b","x":-59.8,"y":-0.87},{"s":"b","x":-58.6,"y":-0.82},{"s":"b","x":-57.4,"y":-0.8},{"s":"b","x":-56.3,"y":-0.85},{"s":"b","x":-55.1,"y":-0.8},{"s":"b","x":-53.9,"y":-0.76},{"s":"b","x":-52.8,"y":-0.78},{"s":"b","x":-51.6,"y":-0.74},{"s":"b","x":-50.4,"y":-0.76},{"s":"b","x":-49.3,"y":-0.73},{"s":"b","x":-48.1,"y":-0.74},{"s":"b","x":-46.9,"y":-0.71},{"s":"b","x":-45.7,"y":-0.73},{"s":"b","x":-44.6,"y":-0.69},{"s":"b","x":-43.4,"y":-0.71},{"s":"b","x":-42.2,"y":-0.74},{"s":"b","x":-41,"y":-0.69},{"s":"b","x":-39.9,"y":-0.71},{"s":"b","x":-38.7,"y":-0.76},{"s":"b","x":-37.5,"y":-0.74},{"s":"b","x":-36.4,"y":-0.69},{"s":"b","x":-35.2,"y":-0.64},{"s":"b","x":-34,"y":-0.62},{"s":"b","x":-32.9,"y":-0.59},{"s":"b","x":-31.7,"y":-0.6},{"s":"b","x":-30.6,"y":-0.55},{"s":"b","x":-29.4,"y":-0.53},{"s":"b","x":-28.2,"y":-0.55},{"s":"b","x":-27.1,"y":-0.5},{"s":"b","x":-25.9,"y":-0.53},{"s":"b","x":-24.7,"y":-0.54},{"s":"b","x":-23.5,"y":-0.59},{"s":"b","x":-22.4,"y":-0.55},{"s":"b","x":-21.2,"y":-0.5},{"s":"b","x":-20,"y":-0.46},{"s":"b","x":-18.9,"y":-0.44},{"s":"b","x":-17.7,"y":-0.42},{"s":"b","x":-16.5,"y":-0.38},{"s":"b","x":-15.4,"y":-0.4},{"s":"b","x":-14.2,"y":-0.35},{"s":"b","x":-13.1,"y":-0.37},{"s":"b","x":-11.9,"y":-0.34},{"s":"b","x":-10.7,"y":-0.3},{"s":"b","x":-9.6,"y":-0.32},{"s":"b","x":-8.4,"y":-0.28},{"s":"b","x":-7.2,"y":-0.29},{"s":"b","x":-6,"y":-0.26},{"s":"b","x":-4.9,"y":-0.27},{"s":"b","x":-3.7,"y":-0.24},{"s":"b","x":-2.5,"y":-0.21},{"s":"b","x":-1.3,"y":-0.17},{"s":"b","x":-0.5,"y":-0.24},{"s":"b","x":0.7,"y":-0.19},{"s":"b","x":1.9,"y":-0.21},{"s":"b","x":3,"y":-0.15},{"s":"b","x":4.2,"y":-0.18},{"s":"b","x":5.4,"y":-0.15},{"s":"b","x":6.5,"y":-0.17},{"s":"b","x":8,"y":-0.14},{"s":"b","x":9.4,"y":-0.15},{"s":"b","x":10.9,"y":-0.11},{"s":"b","x":12.4,"y":-0.13},{"s":"b","x":13.8,"y":-0.09},{"s":"b","x":15.3,"y":-0.11},{"s":"b","x":16.8,"y":-0.08},{"s":"b","x":18.3,"y":-0.1},{"s":"b","x":19.7,"y":-0.06},{"s":"b","x":21.2,"y":-0.05},{"s":"b","x":22.6,"y":-0.08},{"s":"b","x":24.1,"y":-0.05},{"s":"b","x":25.6,"y":-0.03},{"s":"b","x":27,"y":-0.06},{"s":"b","x":28.5,"y":-0.03},{"s":"b","x":29.9,"y":-0.05},{"s":"b","x":31.4,"y":-0.01},{"s":"b","x":32.8,"y":-0.03},{"s":"b","x":34.3,"y":0},{"s":"b","x":35.8,"y":-0.03},{"s":"b","x":37.2,"y":0.01},{"s":"b","x":38.7,"y":-0.02},{"s":"b","x":40.2,"y":0.03},{"s":"b","x":41.6,"y":-0.03},{"s":"b","x":43.1,"y":0},{"s":"b","x":44.6,"y":-0.05},{"s":"b","x":46,"y":0.01},{"s":"b","x":47.5,"y":-0.03},{"s":"b","x":49,"y":-0.01},{"s":"b","x":51,"y":-0.04},{"s":"b","x":53,"y":0},{"s":"b","x":55,"y":-0.03},{"s":"b","x":57,"y":-0.01},{"s":"b","x":59,"y":-0.04},{"s":"b","x":61,"y":-0.02},{"s":"b","x":63,"y":-0.05},{"s":"b","x":65,"y":-0.01},{"s":"b","x":67,"y":-0.03},{"s":"b","x":69,"y":-0.02},{"s":"b","x":71,"y":-0.05},{"s":"b","x":73,"y":-0.02},{"s":"b","x":75,"y":-0.04},{"s":"b","x":77,"y":-0.03},{"s":"b","x":79,"y":-0.06},{"s":"b","x":80,"y":-0.02}
]
},
"vconcat":[
{"width":608,"height":262,
"encoding":{"x":{"field":"x","type":"quantitative","scale":{"domain":[-172.5,94.1],"nice":false,"zero":false},"axis":null},"y":{"field":"y","type":"quantitative","scale":{"domain":[-2.3423,1.0167],"nice":false,"zero":false},"axis":null}},
"layer":[
{"data":{"name":"Aa"},"transform":[{"filter":"datum.k=='axh'"}],"mark":{"type":"rule","color":"#222222","strokeWidth":1.2,"strokeDash":[5,1.5]},"encoding":{"x2":{"field":"x2"},"y2":{"field":"y2"}}},
{"data":{"name":"Aa"},"transform":[{"filter":"datum.k=='axv'"}],"mark":{"type":"rule","color":"black","strokeWidth":1.2},"encoding":{"x2":{"field":"x2"},"y2":{"field":"y2"}}},
{"data":{"name":"Aa"},"transform":[{"filter":"datum.k=='xt'"}],"mark":{"type":"tick","orient":"vertical","size":12,"thickness":1.2,"color":"black"}},
{"data":{"name":"Aa"},"transform":[{"filter":"datum.k=='yt'"}],"mark":{"type":"tick","orient":"horizontal","size":12,"thickness":1.2,"color":"black"}},
{"data":{"name":"Aa"},"transform":[{"filter":"datum.k=='xl'"}],"mark":{"type":"text","align":"center","baseline":"alphabetic","dy":-14,"fontSize":18},"encoding":{"text":{"field":"t"}}},
{"data":{"name":"Aa"},"transform":[{"filter":"datum.k=='yl'"}],"mark":{"type":"text","align":"left","baseline":"middle","dx":16,"fontSize":18},"encoding":{"text":{"field":"t"}}},
{"data":{"name":"Aa"},"transform":[{"filter":"datum.k=='ylp'"}],"mark":{"type":"text","align":"left","baseline":"middle","dx":22,"fontSize":18},"encoding":{"text":{"field":"t"}}},
{"data":{"name":"Aa"},"transform":[{"filter":"datum.k=='lbl'"}],"mark":{"type":"text","align":"left","baseline":"alphabetic","fontSize":18},"encoding":{"text":{"field":"t"}}},
{"data":{"name":"Aa"},"transform":[{"filter":"datum.k=='sup'"}],"mark":{"type":"text","align":"left","baseline":"alphabetic","dy":-8,"fontSize":11},"encoding":{"text":{"field":"t"}}},
{"data":{"name":"Aa"},"transform":[{"filter":"datum.k=='sub'"}],"mark":{"type":"text","align":"left","baseline":"alphabetic","dy":5,"fontSize":11},"encoding":{"text":{"field":"t"}}},
{"data":{"name":"Aa"},"transform":[{"filter":"datum.k=='let'"}],"mark":{"type":"text","align":"left","baseline":"alphabetic","fontSize":21,"fontStyle":"italic"},"encoding":{"text":{"field":"t"}}},
{"data":{"name":"Aa"},"transform":[{"filter":"datum.k=='ttl'"}],"mark":{"type":"text","align":"left","baseline":"alphabetic","fontSize":19},"encoding":{"text":{"field":"t"}}},
{"data":{"name":"At"},"mark":{"type":"line","color":"black","strokeWidth":1}}
]},
{"width":608,"height":220,
"encoding":{"x":{"field":"x","type":"quantitative","scale":{"domain":[-172.5,94.1],"nice":false,"zero":false},"axis":null},"y":{"field":"y","type":"quantitative","scale":{"domain":[-1.843,1.11],"nice":false,"zero":false},"axis":null}},
"layer":[
{"data":{"name":"Ba"},"transform":[{"filter":"datum.k=='axh' || datum.k=='axv'"}],"mark":{"type":"rule","color":"black","strokeWidth":1.3},"encoding":{"x2":{"field":"x2"},"y2":{"field":"y2"}}},
{"data":{"name":"Ba"},"transform":[{"filter":"datum.k=='xt'"}],"mark":{"type":"tick","orient":"vertical","size":12,"thickness":1.2,"color":"black"}},
{"data":{"name":"Ba"},"transform":[{"filter":"datum.k=='yt'"}],"mark":{"type":"tick","orient":"horizontal","size":12,"thickness":1.2,"color":"black"}},
{"data":{"name":"Ba"},"transform":[{"filter":"datum.k=='xl'"}],"mark":{"type":"text","align":"center","baseline":"alphabetic","dy":-14,"fontSize":18},"encoding":{"text":{"field":"t"}}},
{"data":{"name":"Ba"},"transform":[{"filter":"datum.k=='yl'"}],"mark":{"type":"text","align":"left","baseline":"middle","dx":16,"fontSize":18},"encoding":{"text":{"field":"t"}}},
{"data":{"name":"Ba"},"transform":[{"filter":"datum.k=='ylp'"}],"mark":{"type":"text","align":"left","baseline":"middle","dx":22,"fontSize":18},"encoding":{"text":{"field":"t"}}},
{"data":{"name":"Ba"},"transform":[{"filter":"datum.k=='lbl'"}],"mark":{"type":"text","align":"left","baseline":"alphabetic","fontSize":18},"encoding":{"text":{"field":"t"}}},
{"data":{"name":"Ba"},"transform":[{"filter":"datum.k=='num'"}],"mark":{"type":"text","align":"center","baseline":"alphabetic","fontSize":18},"encoding":{"text":{"field":"t"}}},
{"data":{"name":"Ba"},"transform":[{"filter":"datum.k=='sup'"}],"mark":{"type":"text","align":"left","baseline":"alphabetic","dy":-8,"fontSize":11},"encoding":{"text":{"field":"t"}}},
{"data":{"name":"Ba"},"transform":[{"filter":"datum.k=='sub'"}],"mark":{"type":"text","align":"left","baseline":"alphabetic","dy":5,"fontSize":11},"encoding":{"text":{"field":"t"}}},
{"data":{"name":"Ba"},"transform":[{"filter":"datum.k=='let'"}],"mark":{"type":"text","align":"left","baseline":"alphabetic","fontSize":21,"fontStyle":"italic"},"encoding":{"text":{"field":"t"}}},
{"data":{"name":"Bt"},"mark":{"type":"line","color":"black","strokeWidth":1},"encoding":{"detail":{"field":"s"}}}
]},
{"width":608,"height":291,
"encoding":{"x":{"field":"x","type":"quantitative","scale":{"domain":[-172.5,94.1],"nice":false,"zero":false},"axis":null},"y":{"field":"y","type":"quantitative","scale":{"domain":[-2.8804,1.0734],"nice":false,"zero":false},"axis":null}},
"layer":[
{"data":{"name":"Ca"},"transform":[{"filter":"datum.k=='axh'"}],"mark":{"type":"rule","color":"#222222","strokeWidth":1.2,"strokeDash":[5,1.5]},"encoding":{"x2":{"field":"x2"},"y2":{"field":"y2"}}},
{"data":{"name":"Ca"},"transform":[{"filter":"datum.k=='axv'"}],"mark":{"type":"rule","color":"black","strokeWidth":1.2},"encoding":{"x2":{"field":"x2"},"y2":{"field":"y2"}}},
{"data":{"name":"Ca"},"transform":[{"filter":"datum.k=='xt'"}],"mark":{"type":"tick","orient":"vertical","size":12,"thickness":1.2,"color":"black"}},
{"data":{"name":"Ca"},"transform":[{"filter":"datum.k=='yt'"}],"mark":{"type":"tick","orient":"horizontal","size":12,"thickness":1.2,"color":"black"}},
{"data":{"name":"Ca"},"transform":[{"filter":"datum.k=='xl'"}],"mark":{"type":"text","align":"center","baseline":"alphabetic","dy":-14,"fontSize":18},"encoding":{"text":{"field":"t"}}},
{"data":{"name":"Ca"},"transform":[{"filter":"datum.k=='yl'"}],"mark":{"type":"text","align":"left","baseline":"middle","dx":16,"fontSize":18},"encoding":{"text":{"field":"t"}}},
{"data":{"name":"Ca"},"transform":[{"filter":"datum.k=='ylp'"}],"mark":{"type":"text","align":"left","baseline":"middle","dx":22,"fontSize":18},"encoding":{"text":{"field":"t"}}},
{"data":{"name":"Ca"},"transform":[{"filter":"datum.k=='num'"}],"mark":{"type":"text","align":"center","baseline":"alphabetic","fontSize":18},"encoding":{"text":{"field":"t"}}},
{"data":{"name":"Ca"},"transform":[{"filter":"datum.k=='let'"}],"mark":{"type":"text","align":"left","baseline":"alphabetic","fontSize":21,"fontStyle":"italic"},"encoding":{"text":{"field":"t"}}},
{"data":{"name":"Ct"},"mark":{"type":"line","color":"black","strokeWidth":1},"encoding":{"detail":{"field":"s"}}}
]},
{"width":608,"height":252,
"encoding":{"x":{"field":"x","type":"quantitative","scale":{"domain":[-172.5,94.1],"nice":false,"zero":false},"axis":null},"y":{"field":"y","type":"quantitative","scale":{"domain":[-1.8231,1.6054],"nice":false,"zero":false},"axis":null}},
"layer":[
{"data":{"name":"Da"},"transform":[{"filter":"datum.k=='axh' || datum.k=='axv'"}],"mark":{"type":"rule","color":"black","strokeWidth":1.3},"encoding":{"x2":{"field":"x2"},"y2":{"field":"y2"}}},
{"data":{"name":"Da"},"transform":[{"filter":"datum.k=='xt'"}],"mark":{"type":"tick","orient":"vertical","size":12,"thickness":1.2,"color":"black"}},
{"data":{"name":"Da"},"transform":[{"filter":"datum.k=='yt'"}],"mark":{"type":"tick","orient":"horizontal","size":12,"thickness":1.2,"color":"black"}},
{"data":{"name":"Da"},"transform":[{"filter":"datum.k=='xl'"}],"mark":{"type":"text","align":"center","baseline":"alphabetic","dy":-14,"fontSize":18},"encoding":{"text":{"field":"t"}}},
{"data":{"name":"Da"},"transform":[{"filter":"datum.k=='yl'"}],"mark":{"type":"text","align":"left","baseline":"middle","dx":16,"fontSize":18},"encoding":{"text":{"field":"t"}}},
{"data":{"name":"Da"},"transform":[{"filter":"datum.k=='ylp'"}],"mark":{"type":"text","align":"left","baseline":"middle","dx":22,"fontSize":18},"encoding":{"text":{"field":"t"}}},
{"data":{"name":"Da"},"transform":[{"filter":"datum.k=='num'"}],"mark":{"type":"text","align":"center","baseline":"alphabetic","fontSize":18},"encoding":{"text":{"field":"t"}}},
{"data":{"name":"Da"},"transform":[{"filter":"datum.k=='let'"}],"mark":{"type":"text","align":"left","baseline":"alphabetic","fontSize":21,"fontStyle":"italic"},"encoding":{"text":{"field":"t"}}},
{"data":{"name":"Da"},"transform":[{"filter":"datum.k=='ttl'"}],"mark":{"type":"text","align":"left","baseline":"alphabetic","fontSize":19},"encoding":{"text":{"field":"t"}}},
{"data":{"name":"Dt"},"mark":{"type":"line","color":"black","strokeWidth":1},"encoding":{"detail":{"field":"s"}}}
]}
]
}
